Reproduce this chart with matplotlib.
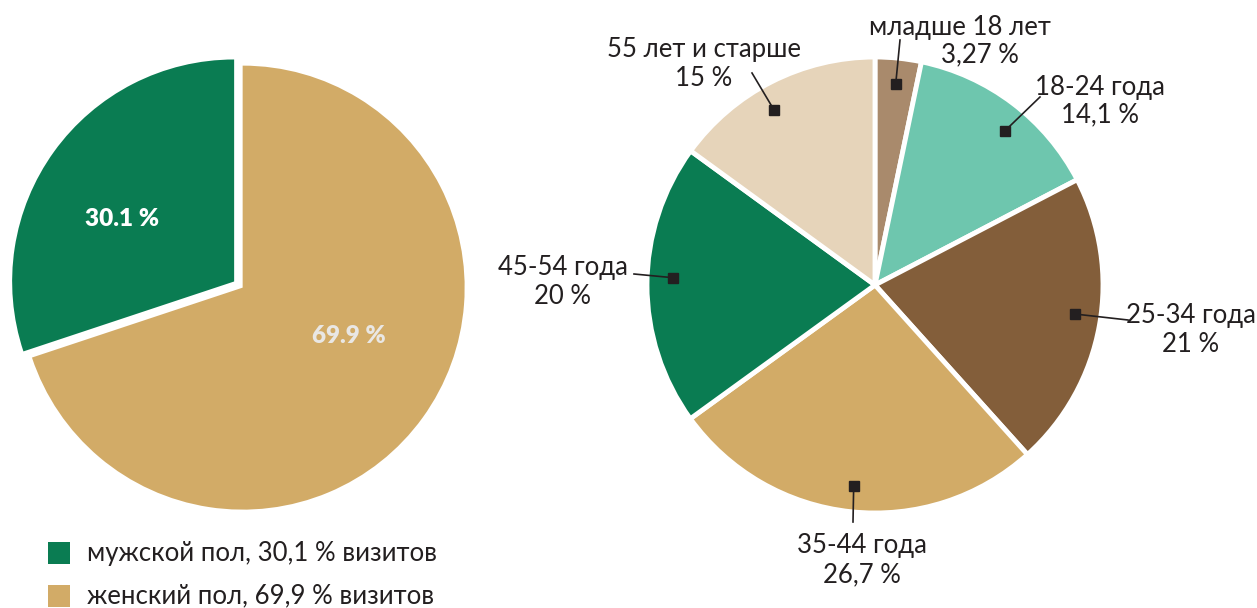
import numpy as np
import matplotlib
matplotlib.use("Agg")
import matplotlib.pyplot as plt

plt.rcParams['font.family'] = ['Lato', 'DejaVu Sans']

# ---- data ----
gender_labels = ["мужской пол, 30,1 % визитов", "женский пол, 69,9 % визитов"]
gender_values = [30.1, 69.9]
gender_inner = ["30.1 %", "69.9 %"]
gender_colors = ["#0A7C52", "#D2AB67"]

age_names = ["младше 18 лет", "18-24 года", "25-34 года", "35-44 года", "45-54 года", "55 лет и старше"]
age_values = [3.27, 14.1, 21, 26.7, 20, 15]
age_pct = ["3,27 %", "14,1 %", "21 %", "26,7 %", "20 %", "15 %"]
age_colors = ["#A98A6C", "#6EC6AE", "#835E3A", "#D2AB67", "#0A7C52", "#E6D4BA"]

W, H = 1257, 608
fig = plt.figure(figsize=(W / 100, H / 100), dpi=100)
ax = fig.add_axes([0, 0, 1, 1])

def Y(y):
    return H - y

TXT = "#231F20"
FS = 18.5

# ---- left pie ----
lc = (239, Y(285)); lr = 222
wedges, _ = ax.pie(gender_values, colors=gender_colors, startangle=90, counterclock=True,
                   center=lc, radius=lr, explode=[6, 4.5], frame=True,
                   wedgeprops=dict(linewidth=0))
inner_pos = [(122, 219), (349, 336)]
inner_col = ["white", "#E9E7E4"]
for t, (x, y), c in zip(gender_inner, inner_pos, inner_col):
    ax.text(x, Y(y), t, color=c, fontsize=17.5, fontweight='heavy', ha='center', va='center')

# legend
for i, (lab, col) in enumerate(zip(gender_labels, gender_colors)):
    yc = 553 + i * 43
    ax.add_patch(plt.Rectangle((48, Y(yc) - 11), 22, 22, color=col, lw=0))
    ax.text(87, Y(yc), lab, fontsize=FS, color=TXT, ha='left', va='center')

# ---- right pie ----
rc = (875, Y(285)); rr = 228
wedges2, _ = ax.pie(age_values, colors=age_colors, startangle=90, counterclock=False,
                    center=rc, radius=rr, frame=True,
                    wedgeprops=dict(edgecolor='white', linewidth=3.5))

line_end = [(900, 40), (1040, 97), (1128, 320), (853, 522), (634, 274), (752, 73)]
text_pos = [((960, 27), (980, 55)), ((1100, 87), (1100, 115)), ((1191, 315), (1191, 345)),
            ((862, 546), (862, 575)), ((563, 267), (563, 296)), ((704, 50), (704, 78))]
angle_adj = [0, -3, 2, 0, -2, 3]
for w, name, pct, le, tp, adj in zip(wedges2, age_names, age_pct, line_end, text_pos, angle_adj):
    mid = np.deg2rad((w.theta1 + w.theta2) / 2 + adj)
    mx = rc[0] + 0.885 * rr * np.cos(mid)
    my = rc[1] + 0.885 * rr * np.sin(mid)
    ax.plot([mx, le[0]], [my, Y(le[1])], color=TXT, lw=1.2, zorder=5)
    ax.plot([mx], [my], marker='s', ms=6.5, color=TXT, zorder=6)
    ax.text(tp[0][0], Y(tp[0][1]), name, fontsize=FS, color=TXT, ha='center', va='center')
    ax.text(tp[1][0], Y(tp[1][1]), pct, fontsize=FS, color=TXT, ha='center', va='center')

ax.set_xlim(0, W)
ax.set_ylim(0, H)
ax.set_aspect('equal')
ax.axis('off')

fig.savefig("out.png", dpi=100)
